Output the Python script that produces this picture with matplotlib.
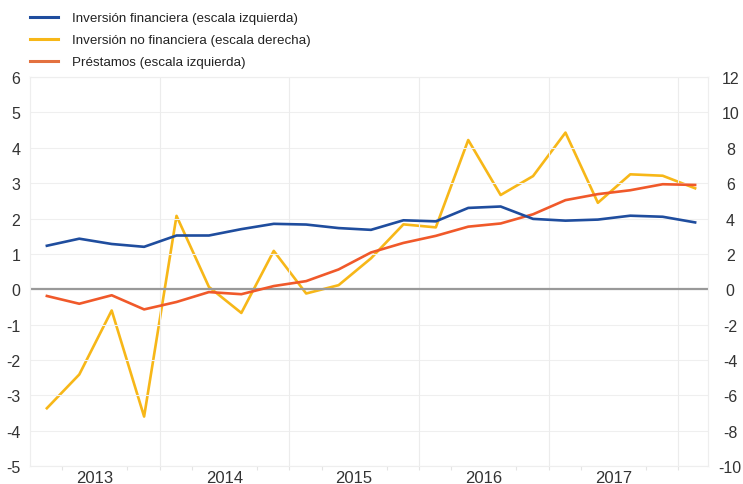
import matplotlib
matplotlib.use("Agg")
import matplotlib.pyplot as plt
import numpy as np

plt.rcParams['font.family'] = ['Liberation Sans', 'DejaVu Sans']

# Quarterly data, 2013Q1 - 2018Q1
quarters = ["2013Q1", "2013Q2", "2013Q3", "2013Q4",
            "2014Q1", "2014Q2", "2014Q3", "2014Q4",
            "2015Q1", "2015Q2", "2015Q3", "2015Q4",
            "2016Q1", "2016Q2", "2016Q3", "2016Q4",
            "2017Q1", "2017Q2", "2017Q3", "2017Q4",
            "2018Q1"]
inversion_financiera = [1.23, 1.43, 1.28, 1.20, 1.52, 1.52, 1.70, 1.85, 1.83, 1.73, 1.68,
                        1.95, 1.92, 2.30, 2.34, 1.99, 1.94, 1.97, 2.08, 2.05, 1.89]
inversion_no_financiera = [-6.73, -4.82, -1.20, -7.20, 4.15, 0.13, -1.34, 2.17, -0.24, 0.23, 1.75,
                           3.67, 3.50, 8.44, 5.33, 6.40, 8.86, 4.89, 6.50, 6.42, 5.71]
prestamos = [-0.19, -0.41, -0.17, -0.57, -0.36, -0.08, -0.14, 0.09, 0.23, 0.56, 1.04,
             1.31, 1.51, 1.77, 1.86, 2.12, 2.52, 2.69, 2.80, 2.97, 2.95]
years = [2013, 2014, 2015, 2016, 2017]

labels = ["Inversión financiera (escala izquierda)",
          "Inversión no financiera (escala derecha)",
          "Préstamos (escala izquierda)"]
c_blue = "#1f4d9e"
c_yellow = "#f7b718"
c_orange = "#f0592a"

x = 2013.13 + 0.25 * np.arange(len(quarters))

fig = plt.figure(figsize=(7.43, 4.85), dpi=100)
ax = fig.add_axes([0.0404, 0.037, 0.9126, 0.802])
ax2 = ax.twinx()

ax.set_xlim(2013.0, 2018.23)
ax.set_ylim(-5, 6)
ax2.set_ylim(-10, 12)

# grid
for v in range(-5, 7):
    ax.axhline(v, color="#efefef", lw=0.8, zorder=0)
for yv in range(2014, 2019):
    ax.axvline(yv, color="#ececec", lw=0.8, zorder=0)
ax.axhline(0, color="#999999", lw=1.6, zorder=1)

ax.plot(x, inversion_financiera, color=c_blue, lw=1.9, zorder=4)
ax.plot(x, prestamos, color=c_orange, lw=1.9, zorder=3)
ax2.plot(x, inversion_no_financiera, color=c_yellow, lw=1.9, zorder=2)
ax.set_zorder(ax2.get_zorder() + 1)
ax.patch.set_visible(False)

ax.set_yticks(range(-5, 7))
ax.set_yticklabels([str(v) for v in range(-5, 7)], fontsize=11.5, color="#333333")
ax2.set_yticks(range(-10, 13, 2))
ax2.set_yticklabels([str(v) for v in range(-10, 13, 2)], fontsize=11.5, color="#333333",
                    ha="center")

ax.set_xticks([yv + 0.5 for yv in years])
ax.set_xticklabels([str(yv) for yv in years], fontsize=12, color="#333333")
ax.set_xticks(np.arange(2013.25, 2018.25, 0.25), minor=True)

ax.tick_params(axis="y", length=0, pad=7)
ax2.tick_params(axis="y", length=0, pad=16)
ax.tick_params(axis="x", which="major", length=0, pad=3)
ax.tick_params(axis="x", which="minor", length=3, color="#e4e4e4", width=0.8)
ax2.tick_params(axis="x", length=0)

for a in (ax, ax2):
    for s in a.spines.values():
        s.set_color("#eeeeee")
        s.set_linewidth(0.8)

# legend
from matplotlib.lines import Line2D
handles = [Line2D([], [], color=c_blue, lw=2.2),
           Line2D([], [], color=c_yellow, lw=2.2),
           Line2D([], [], color="#e3713f", lw=2.2)]
fig.legend(handles, labels, loc="upper left", bbox_to_anchor=(0.024, 0.998),
           frameon=False, fontsize=9.6, handlelength=2.1, handletextpad=1.05,
           labelspacing=0.72, labelcolor="#222222")

fig.savefig("out.png", dpi=100)
